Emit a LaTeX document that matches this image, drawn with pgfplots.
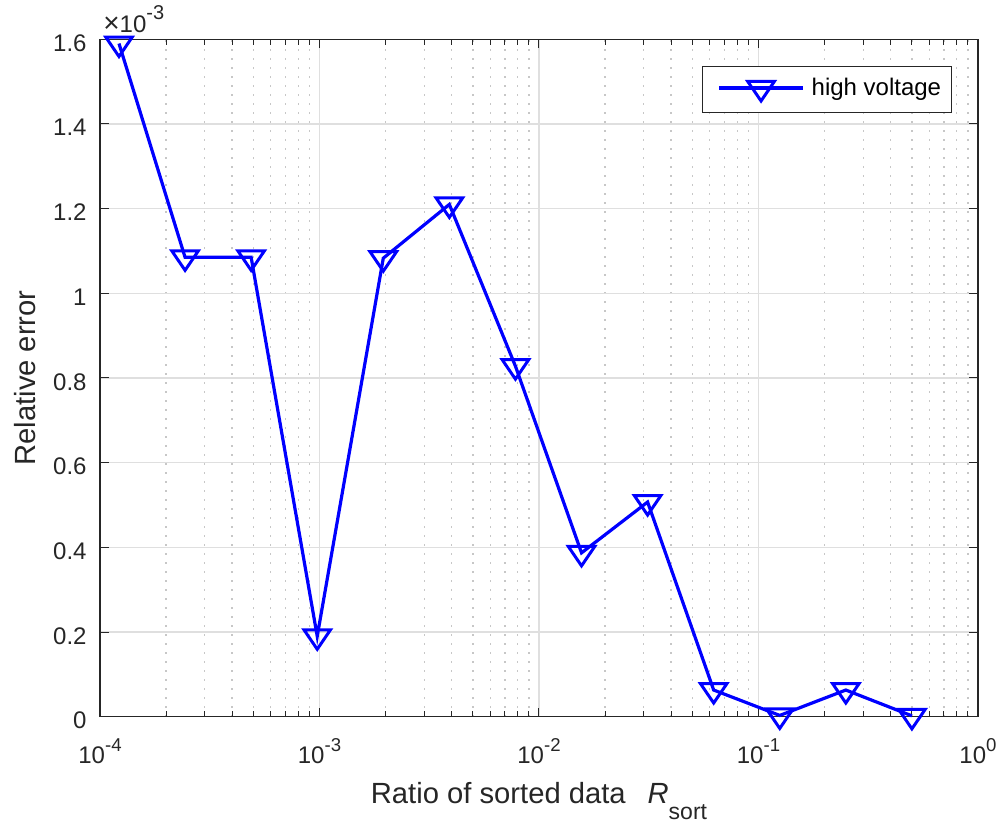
\documentclass[border=0pt]{standalone}
\usepackage{pgfplots}
\pgfplotsset{compat=1.18}
\usepackage{fontspec}
\setmainfont{Liberation Sans}

\definecolor{txt}{gray}{0.15}
\definecolor{gridmaj}{gray}{0.873}
\definecolor{gridmin}{gray}{0.78}

% powers of ten for the log-axis tick labels
\newcommand{\tenpow}[1]{10\raisebox{5.8bp}{\fontsize{9.3bp}{10bp}\selectfont #1}}

\begin{document}
\begin{tikzpicture}
\begin{axis}[
  name=ax,
  scale only axis,
  width=439bp, height=338.7bp,
  xmode=log, log basis x=10,
  xmin=1e-4, xmax=1,
  ymin=0, ymax=1.6,
  clip=false,
  xtick={1e-4,1e-3,1e-2,1e-1,1},
  xticklabels={\tenpow{-4},\tenpow{-3},\tenpow{-2},\tenpow{-1},\tenpow{0}},
  minor xtick={2e-4,3e-4,4e-4,5e-4,6e-4,7e-4,8e-4,9e-4,
               2e-3,3e-3,4e-3,5e-3,6e-3,7e-3,8e-3,9e-3,
               2e-2,3e-2,4e-2,5e-2,6e-2,7e-2,8e-2,9e-2,
               0.2,0.3,0.4,0.5,0.6,0.7,0.8,0.9},
  ytick={0,0.2,0.4,0.6,0.8,1,1.2,1.4,1.6},
  yticklabels={0,0.2,0.4,0.6,0.8,1,1.2,1.4,1.6},
  tick align=inside,
  major tick length=4.5bp, minor tick length=2.8bp,
  every tick/.style={txt, line width=0.5bp},
  axis line style={txt, line width=0.6bp},
  xmajorgrids, ymajorgrids, xminorgrids,
  major grid style={gridmaj, line width=0.6bp},
  minor grid style={gridmin, line width=0.7bp, dash pattern=on 0.7bp off 3.8bp},
  tick label style={font=\fontsize{12bp}{14bp}\selectfont, text=txt},
  xticklabel style={anchor=base, yshift=-23.3bp, inner sep=0pt},
  yticklabel style={anchor=base east, xshift=-6.5bp, yshift=-6bp, inner sep=0pt},
  xlabel={Ratio of sorted data\hspace{0.75em}\textit{R}\raisebox{-8.3bp}{\fontsize{11.5bp}{12bp}\selectfont sort}},
  every axis x label/.style={at={(axis description cs:0.5,-0.1274)}, anchor=base,
    font=\fontsize{14.6bp}{16bp}\selectfont, text=txt, inner sep=0pt},
  ylabel={Relative error},
  every axis y label/.style={at={(axis description cs:-0.074,0.5)}, anchor=base, rotate=90,
    font=\fontsize{14.6bp}{16bp}\selectfont, text=txt, inner sep=0pt},
  legend style={at={(1,1)}, anchor=north east, xshift=-12.85bp, yshift=-13.35bp,
    draw=txt, line width=0.6bp, fill=white, inner xsep=5.3bp, inner ysep=5.6bp,
    font=\fontsize{12bp}{14bp}\selectfont, text=black, column sep=3.5bp,
    nodes={inner sep=0pt}},
  legend image code/.code={%
    \path (0bp,0bp);
    \draw[mark repeat=2,mark phase=2,#1] plot coordinates {(2.2bp,0bp)(23.2bp,0bp)(44.2bp,0bp)};},
]
% relative error, in units of 1e-3
\addplot[color=blue, line width=1.6bp, mark=triangle, mark size=6.5bp,
  mark options={solid, rotate=180, xscale=1.18, line width=1.5bp}]
  coordinates {
  (0.0001220703125, 1.59)
  (0.000244140625, 1.085)
  (0.00048828125, 1.085)
  (0.0009765625, 0.19)
  (0.001953125, 1.083)
  (0.00390625, 1.21)
  (0.0078125, 0.828)
  (0.015625, 0.387)
  (0.03125, 0.507)
  (0.0625, 0.063)
  (0.125, 0.003)
  (0.25, 0.063)
  (0.5, 0.002)
  };
\addlegendentry{high voltage}
\node[anchor=base west, inner sep=0pt, text=txt, font=\fontsize{12bp}{14bp}\selectfont,
  xshift=1.5bp, yshift=3.2bp] at (rel axis cs:0,1)
  {{\fontsize{14bp}{14bp}\selectfont ×}10\raisebox{6.5bp}{\fontsize{10bp}{10bp}\selectfont -3}};
\end{axis}
\pgfresetboundingbox
\path[use as bounding box] ([xshift=-50bp, yshift=-53.65bp]ax.south west)
  rectangle ([xshift=12.5bp, yshift=19.65bp]ax.north east);
\end{tikzpicture}
\end{document}
